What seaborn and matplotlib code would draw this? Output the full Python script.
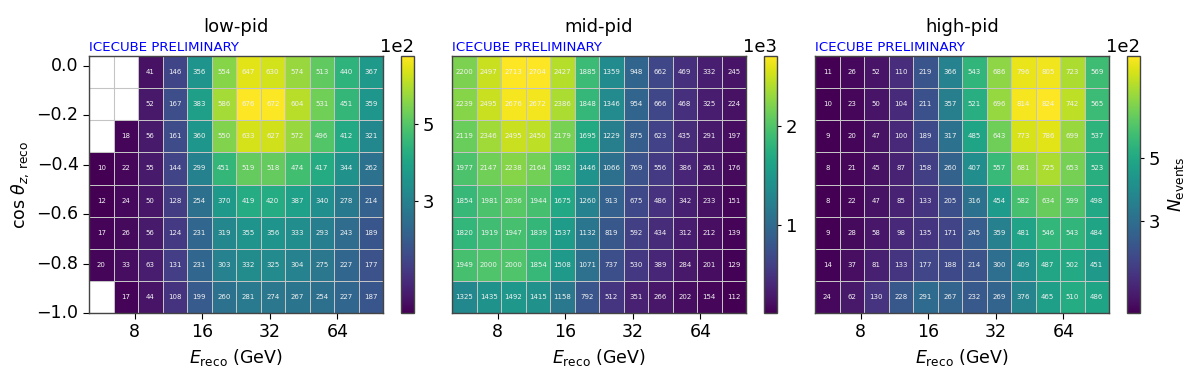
import numpy as np
import matplotlib
matplotlib.use("Agg")
import matplotlib.pyplot as plt
from matplotlib.ticker import ScalarFormatter
import seaborn as sns

nan = np.nan

# reco energy bin edges (GeV) and cos(zenith) bin edges
e_edges = [5.0, 6.43, 8.27, 10.64, 13.68, 17.59, 22.62, 29.09, 37.41, 48.11, 61.87, 79.56, 100.0]
cos_edges = [0.04, -0.09, -0.22, -0.35, -0.48, -0.61, -0.74, -0.87, -1.0]  # top -> bottom

x_ticks = [8, 16, 32, 64]
y_ticks = [0.0, -0.2, -0.4, -0.6, -0.8, -1.0]

# event counts, rows listed from top (cos ~ 0) to bottom (cos = -1)
low_pid = [
    [nan, nan, 41, 146, 356, 554, 647, 630, 574, 513, 440, 367],
    [nan, nan, 52, 167, 383, 586, 676, 672, 604, 531, 451, 359],
    [nan, 18, 56, 161, 360, 550, 633, 627, 572, 496, 412, 321],
    [10, 22, 55, 144, 299, 451, 519, 518, 474, 417, 344, 262],
    [12, 24, 50, 128, 254, 370, 419, 420, 387, 340, 278, 214],
    [17, 26, 56, 124, 231, 319, 355, 356, 333, 293, 243, 189],
    [20, 33, 63, 131, 231, 303, 332, 325, 304, 275, 227, 177],
    [nan, 17, 44, 108, 199, 260, 281, 274, 267, 254, 227, 187],
]
mid_pid = [
    [2200, 2497, 2713, 2704, 2427, 1885, 1359, 948, 662, 469, 332, 245],
    [2239, 2495, 2676, 2672, 2386, 1848, 1346, 954, 666, 468, 325, 224],
    [2119, 2346, 2495, 2450, 2179, 1695, 1229, 875, 623, 435, 291, 197],
    [1977, 2147, 2238, 2164, 1892, 1446, 1066, 769, 556, 386, 261, 176],
    [1854, 1981, 2036, 1944, 1675, 1260, 913, 675, 486, 342, 233, 151],
    [1820, 1919, 1947, 1839, 1537, 1132, 819, 592, 434, 312, 212, 139],
    [1949, 2000, 2000, 1854, 1508, 1071, 737, 530, 389, 284, 201, 129],
    [1325, 1435, 1492, 1415, 1158, 792, 512, 351, 266, 202, 154, 112],
]
high_pid = [
    [11, 26, 52, 110, 219, 366, 543, 686, 796, 805, 723, 569],
    [10, 23, 50, 104, 211, 357, 521, 696, 814, 824, 742, 565],
    [9, 20, 47, 100, 189, 317, 485, 643, 773, 786, 699, 537],
    [8, 21, 45, 87, 158, 260, 407, 557, 681, 725, 653, 523],
    [8, 22, 47, 85, 133, 205, 316, 454, 582, 634, 599, 498],
    [9, 28, 58, 98, 135, 171, 245, 359, 481, 546, 543, 484],
    [14, 37, 81, 133, 177, 188, 214, 300, 409, 487, 502, 451],
    [24, 62, 130, 228, 291, 267, 232, 269, 376, 465, 510, 486],
]

titles = ["low-pid", "mid-pid", "high-pid"]
cbar_ticks = [[300, 500], [1000, 2000], [300, 500]]

fig = plt.figure(figsize=(11.96, 3.74), dpi=100)

lefts = [89, 452, 815]
cb_lefts = [401, 764, 1127]
W, H = 1196, 374
bottom, height = (H - 313) / H, 257 / H

# map data values to heatmap cell coordinates
n_e = len(e_edges) - 1
n_c = len(cos_edges) - 1
x_pos = np.interp(np.log(x_ticks), np.log(e_edges), np.arange(n_e + 1))
y_pos = np.interp(y_ticks, cos_edges[::-1], np.arange(n_c + 1)[::-1])

for i, (data, title) in enumerate(zip([low_pid, mid_pid, high_pid], titles)):
    arr = np.array(data, dtype=float)
    ax = fig.add_axes([lefts[i] / W, bottom, 294 / W, height])
    cax = fig.add_axes([cb_lefts[i] / W, bottom, 13 / W, height])

    sns.heatmap(arr, ax=ax, cbar_ax=cax, cmap="viridis",
                vmin=np.nanmin(arr), vmax=np.nanmax(arr),
                annot=True, fmt=".0f",
                annot_kws={"fontsize": 5, "color": "#f2f2f2"},
                linewidths=0.6, linecolor="#c4c4c4")
    mesh = ax.collections[0]

    # faint grid under empty cells
    ax.hlines(np.arange(n_c + 1), 0, n_e, color="#d0d0d0", lw=0.8, zorder=0)
    ax.vlines(np.arange(n_e + 1), 0, n_c, color="#d0d0d0", lw=0.8, zorder=0)

    for s in ax.spines.values():
        s.set_visible(True)
        s.set_color("#444444")
        s.set_linewidth(1.0)

    ax.set_xticks(x_pos)
    ax.set_xticklabels([str(t) for t in x_ticks], rotation=0, fontsize=12.5)
    ax.set_xlabel(r"$E_\mathrm{reco}$ (GeV)", fontsize=12.5)
    if i == 0:
        ax.set_yticks(y_pos)
        ax.set_yticklabels([f"{t:.1f}".replace("-", "\u2212") for t in y_ticks],
                           rotation=0, fontsize=12.5)
        ax.set_ylabel(r"$\cos\,\theta_{z,\,\mathrm{reco}}$", fontsize=12.5)
    else:
        ax.set_yticks([])
        ax.set_ylabel("")
    ax.tick_params(length=4)

    ax.set_title(title, fontsize=13, pad=17)
    ax.text(0.0, 1.008, "ICECUBE PRELIMINARY", transform=ax.transAxes,
            color="blue", fontsize=9.6, va="bottom", ha="left")

    # colorbar
    cb = mesh.colorbar
    cb.outline.set_visible(True)
    cb.outline.set_edgecolor("#444444")
    cb.outline.set_linewidth(1.0)
    fmt = ScalarFormatter(useMathText=False)
    fmt.set_powerlimits((0, 0))
    cb.set_ticks(cbar_ticks[i])
    cax.yaxis.set_major_formatter(fmt)
    cax.tick_params(labelsize=13, length=3)
    cax.yaxis.get_offset_text().set_fontsize(13)
    if i == 2:
        cb.set_label(r"$N_\mathrm{events}$", fontsize=12.5)

fig.savefig("out.png", dpi=100)
